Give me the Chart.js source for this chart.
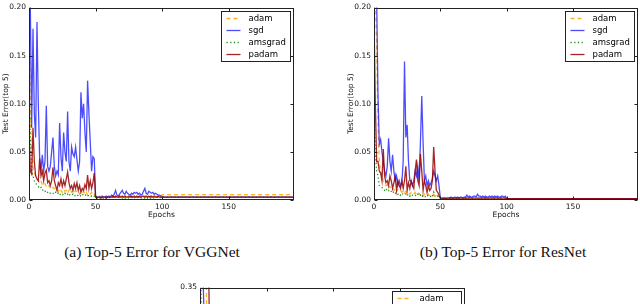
<!DOCTYPE html>
<html>
<head>
<meta charset="utf-8">
<script src="https://cdn.jsdelivr.net/npm/chart.js@4/dist/chart.umd.min.js"></script>
<style>
  html, body { margin: 0; width: 640px; height: 304px; overflow: hidden; background: #fff; }
  body { position: relative; }
  .plot { position: absolute; overflow: hidden; }
  .cap { position: absolute; width: 220px; text-align: center; font-family: "Liberation Serif", serif; font-size: 15.5px; color: #111; white-space: nowrap; }
</style>
</head>
<body>
<div class="plot" style="left:0;top:0;width:300px;height:222px"><canvas id="vgg" width="300" height="222"></canvas></div>
<div class="plot" style="left:345px;top:0;width:295px;height:222px"><canvas id="resnet" width="295" height="222"></canvas></div>
<div class="plot" style="left:175px;top:280px;width:300px;height:24px"><canvas id="third" width="300" height="222"></canvas></div>
<div class="cap" style="left:42px;top:243px">(a) Top-5 Error for VGGNet</div>
<div class="cap" style="left:393px;top:243px">(b) Top-5 Error for ResNet</div>
<script>
var seriesNames = ["adam", "sgd", "amsgrad", "padam"];
var yTicksTop = [0, 0.05, 0.1, 0.15, 0.2];
var yTicksThird = [0, 0.05, 0.1, 0.15, 0.2, 0.25, 0.3, 0.35];
var xTicks = [0, 50, 100, 150];

// epochs 0..199
var epochs = [];
for (var e = 0; e < 200; e++) epochs.push(e);

// (a) VGGNet
var vggAdam = [
  0.21, 0.09, 0.05, 0.035, 0.028, 0.025, 0.022, 0.02, 0.018, 0.02,
  0.016, 0.015, 0.017, 0.014, 0.013, 0.015, 0.012, 0.011, 0.013, 0.012,
  0.01, 0.011, 0.009, 0.012, 0.01, 0.008, 0.011, 0.009, 0.01, 0.007,
  0.01, 0.012, 0.008, 0.009, 0.007, 0.01, 0.008, 0.009, 0.006, 0.008,
  0.007, 0.009, 0.006, 0.008, 0.005, 0.007, 0.006, 0.008, 0.005, 0.006,
  0.003, 0.003, 0.003, 0.004, 0.003, 0.003, 0.003, 0.004, 0.003, 0.003,
  0.003, 0.004, 0.003, 0.003, 0.003, 0.004, 0.003, 0.003, 0.004, 0.003,
  0.003, 0.003, 0.004, 0.003, 0.003, 0.003, 0.004, 0.003, 0.003, 0.003,
  0.004, 0.003, 0.003, 0.003, 0.004, 0.003, 0.003, 0.004, 0.003, 0.003,
  0.003, 0.004, 0.003, 0.003, 0.003, 0.004, 0.003, 0.003, 0.003, 0.003,
  0.0055, 0.0055, 0.0055, 0.0055, 0.0055, 0.0055, 0.0055, 0.0055, 0.0055, 0.0055,
  0.0055, 0.0055, 0.0055, 0.0055, 0.0055, 0.0055, 0.0055, 0.0055, 0.0055, 0.0055,
  0.0055, 0.0055, 0.0055, 0.0055, 0.0055, 0.0055, 0.0055, 0.0055, 0.0055, 0.0055,
  0.0055, 0.0055, 0.0055, 0.0055, 0.0055, 0.0055, 0.0055, 0.0055, 0.0055, 0.0055,
  0.0055, 0.0055, 0.0055, 0.0055, 0.0055, 0.0055, 0.0055, 0.0055, 0.0055, 0.0055,
  0.0055, 0.0055, 0.0055, 0.0055, 0.0055, 0.0055, 0.0055, 0.0055, 0.0055, 0.0055,
  0.0055, 0.0055, 0.0055, 0.0055, 0.0055, 0.0055, 0.0055, 0.0055, 0.0055, 0.0055,
  0.0055, 0.0055, 0.0055, 0.0055, 0.0055, 0.0055, 0.0055, 0.0055, 0.0055, 0.0055,
  0.0055, 0.0055, 0.0055, 0.0055, 0.0055, 0.0055, 0.0055, 0.0055, 0.0055, 0.0055,
  0.0055, 0.0055, 0.0055, 0.0055, 0.0055, 0.0055, 0.0055, 0.0055, 0.0055, 0.0055
];
var vggSgd = [
  0.25, 0.2, 0.075, 0.178, 0.09, 0.065, 0.185, 0.1, 0.044, 0.03,
  0.047, 0.03, 0.04, 0.098, 0.035, 0.03, 0.035, 0.05, 0.065, 0.035,
  0.025, 0.03, 0.026, 0.08, 0.045, 0.03, 0.07, 0.05, 0.04, 0.092,
  0.04, 0.03, 0.055, 0.048, 0.045, 0.055, 0.042, 0.03, 0.04, 0.112,
  0.085, 0.1, 0.07, 0.05, 0.124, 0.09, 0.06, 0.03, 0.045, 0.043,
  0.004, 0.003, 0.003, 0.003, 0.003, 0.004, 0.003, 0.003, 0.004, 0.003,
  0.004, 0.003, 0.005, 0.004, 0.006, 0.01, 0.005, 0.004, 0.006, 0.008,
  0.01, 0.007, 0.006, 0.009, 0.007, 0.006, 0.005, 0.007, 0.006, 0.008,
  0.007, 0.008, 0.006, 0.007, 0.005, 0.006, 0.009, 0.012, 0.007, 0.006,
  0.009, 0.008, 0.007, 0.008, 0.006, 0.007, 0.006, 0.005, 0.005, 0.004,
  0.003, 0.003, 0.003, 0.003, 0.003, 0.003, 0.003, 0.003, 0.003, 0.003,
  0.003, 0.003, 0.003, 0.003, 0.003, 0.003, 0.003, 0.003, 0.003, 0.003,
  0.003, 0.003, 0.003, 0.003, 0.003, 0.003, 0.003, 0.003, 0.003, 0.003,
  0.003, 0.003, 0.003, 0.003, 0.003, 0.003, 0.003, 0.003, 0.003, 0.003,
  0.003, 0.003, 0.003, 0.003, 0.003, 0.003, 0.003, 0.003, 0.003, 0.003,
  0.003, 0.003, 0.003, 0.003, 0.003, 0.003, 0.003, 0.003, 0.003, 0.003,
  0.003, 0.003, 0.003, 0.003, 0.003, 0.003, 0.003, 0.003, 0.003, 0.003,
  0.003, 0.003, 0.003, 0.003, 0.003, 0.003, 0.003, 0.003, 0.003, 0.003,
  0.003, 0.003, 0.003, 0.003, 0.003, 0.003, 0.003, 0.003, 0.003, 0.003,
  0.003, 0.003, 0.003, 0.003, 0.003, 0.003, 0.003, 0.003, 0.003, 0.003
];
var vggAmsgrad = [
  0.12, 0.065, 0.03, 0.025, 0.02, 0.018, 0.015, 0.014, 0.012, 0.013,
  0.01, 0.011, 0.009, 0.01, 0.008, 0.009, 0.007, 0.008, 0.007, 0.006,
  0.008, 0.006, 0.007, 0.005, 0.007, 0.006, 0.005, 0.007, 0.005, 0.006,
  0.004, 0.006, 0.005, 0.006, 0.004, 0.005, 0.006, 0.004, 0.005, 0.004,
  0.006, 0.005, 0.004, 0.006, 0.005, 0.004, 0.005, 0.004, 0.005, 0.004,
  0.002, 0.003, 0.002, 0.002, 0.003, 0.002, 0.002, 0.003, 0.002, 0.002,
  0.003, 0.002, 0.002, 0.003, 0.002, 0.003, 0.002, 0.002, 0.003, 0.002,
  0.002, 0.003, 0.002, 0.002, 0.003, 0.002, 0.002, 0.003, 0.002, 0.003,
  0.002, 0.002, 0.003, 0.002, 0.002, 0.003, 0.002, 0.002, 0.003, 0.002,
  0.003, 0.002, 0.002, 0.003, 0.002, 0.002, 0.003, 0.002, 0.002, 0.003,
  0.003, 0.003, 0.003, 0.003, 0.003, 0.003, 0.003, 0.003, 0.003, 0.003,
  0.003, 0.003, 0.003, 0.003, 0.003, 0.003, 0.003, 0.003, 0.003, 0.003,
  0.003, 0.003, 0.003, 0.003, 0.003, 0.003, 0.003, 0.003, 0.003, 0.003,
  0.003, 0.003, 0.003, 0.003, 0.003, 0.003, 0.003, 0.003, 0.003, 0.003,
  0.003, 0.003, 0.003, 0.003, 0.003, 0.003, 0.003, 0.003, 0.003, 0.003,
  0.003, 0.003, 0.003, 0.003, 0.003, 0.003, 0.003, 0.003, 0.003, 0.003,
  0.003, 0.003, 0.003, 0.003, 0.003, 0.003, 0.003, 0.003, 0.003, 0.003,
  0.003, 0.003, 0.003, 0.003, 0.003, 0.003, 0.003, 0.003, 0.003, 0.003,
  0.003, 0.003, 0.003, 0.003, 0.003, 0.003, 0.003, 0.003, 0.003, 0.003,
  0.003, 0.003, 0.003, 0.003, 0.003, 0.003, 0.003, 0.003, 0.003, 0.003
];
var vggPadam = [
  0.072, 0.03, 0.027, 0.075, 0.04, 0.025, 0.022, 0.02, 0.043, 0.025,
  0.03, 0.02, 0.028, 0.031, 0.018, 0.02, 0.015, 0.02, 0.034, 0.02,
  0.015, 0.01, 0.018, 0.015, 0.022, 0.014, 0.02, 0.015, 0.022, 0.029,
  0.018, 0.012, 0.015, 0.01, 0.017, 0.012, 0.018, 0.01, 0.015, 0.008,
  0.012, 0.01, 0.016, 0.012, 0.026, 0.012, 0.02, 0.012, 0.018, 0.028,
  0.003, 0.002, 0.003, 0.003, 0.002, 0.003, 0.003, 0.003, 0.002, 0.003,
  0.003, 0.003, 0.003, 0.004, 0.003, 0.004, 0.003, 0.003, 0.004, 0.003,
  0.004, 0.003, 0.004, 0.003, 0.003, 0.004, 0.003, 0.004, 0.003, 0.004,
  0.003, 0.004, 0.003, 0.004, 0.003, 0.004, 0.004, 0.003, 0.004, 0.003,
  0.004, 0.003, 0.004, 0.003, 0.004, 0.003, 0.003, 0.004, 0.003, 0.003,
  0.003, 0.003, 0.003, 0.003, 0.003, 0.003, 0.003, 0.003, 0.003, 0.003,
  0.003, 0.003, 0.003, 0.003, 0.003, 0.003, 0.003, 0.003, 0.003, 0.003,
  0.003, 0.003, 0.003, 0.003, 0.003, 0.003, 0.003, 0.003, 0.003, 0.003,
  0.003, 0.003, 0.003, 0.003, 0.003, 0.003, 0.003, 0.003, 0.003, 0.003,
  0.003, 0.003, 0.003, 0.003, 0.003, 0.003, 0.003, 0.003, 0.003, 0.003,
  0.003, 0.003, 0.003, 0.003, 0.003, 0.003, 0.003, 0.003, 0.003, 0.003,
  0.003, 0.003, 0.003, 0.003, 0.003, 0.003, 0.003, 0.003, 0.003, 0.003,
  0.003, 0.003, 0.003, 0.003, 0.003, 0.003, 0.003, 0.003, 0.003, 0.003,
  0.003, 0.003, 0.003, 0.003, 0.003, 0.003, 0.003, 0.003, 0.003, 0.003,
  0.003, 0.003, 0.003, 0.003, 0.003, 0.003, 0.003, 0.003, 0.003, 0.003
];

// (b) ResNet
var resAdam = [
  0.21, 0.21, 0.16, 0.08, 0.04, 0.03, 0.025, 0.02, 0.018, 0.015,
  0.016, 0.012, 0.014, 0.011, 0.012, 0.01, 0.012, 0.009, 0.011, 0.009,
  0.01, 0.008, 0.01, 0.008, 0.009, 0.007, 0.008, 0.006, 0.008, 0.007,
  0.006, 0.008, 0.006, 0.005, 0.007, 0.005, 0.006, 0.004, 0.006, 0.005,
  0.004, 0.006, 0.004, 0.005, 0.004, 0.006, 0.004, 0.005, 0.004, 0.004,
  0.002, 0.002, 0.002, 0.002, 0.002, 0.002, 0.002, 0.002, 0.002, 0.002,
  0.002, 0.002, 0.002, 0.002, 0.002, 0.002, 0.002, 0.002, 0.002, 0.002,
  0.002, 0.002, 0.002, 0.002, 0.002, 0.002, 0.002, 0.002, 0.002, 0.002,
  0.002, 0.002, 0.002, 0.002, 0.002, 0.002, 0.002, 0.002, 0.002, 0.002,
  0.002, 0.002, 0.002, 0.002, 0.002, 0.002, 0.002, 0.002, 0.002, 0.002,
  0.0015, 0.0015, 0.0015, 0.0015, 0.0015, 0.0015, 0.0015, 0.0015, 0.0015, 0.0015,
  0.0015, 0.0015, 0.0015, 0.0015, 0.0015, 0.0015, 0.0015, 0.0015, 0.0015, 0.0015,
  0.0015, 0.0015, 0.0015, 0.0015, 0.0015, 0.0015, 0.0015, 0.0015, 0.0015, 0.0015,
  0.0015, 0.0015, 0.0015, 0.0015, 0.0015, 0.0015, 0.0015, 0.0015, 0.0015, 0.0015,
  0.0015, 0.0015, 0.0015, 0.0015, 0.0015, 0.0015, 0.0015, 0.0015, 0.0015, 0.0015,
  0.0015, 0.0015, 0.0015, 0.0015, 0.0015, 0.0015, 0.0015, 0.0015, 0.0015, 0.0015,
  0.0015, 0.0015, 0.0015, 0.0015, 0.0015, 0.0015, 0.0015, 0.0015, 0.0015, 0.0015,
  0.0015, 0.0015, 0.0015, 0.0015, 0.0015, 0.0015, 0.0015, 0.0015, 0.0015, 0.0015,
  0.0015, 0.0015, 0.0015, 0.0015, 0.0015, 0.0015, 0.0015, 0.0015, 0.0015, 0.0015,
  0.0015, 0.0015, 0.0015, 0.0015, 0.0015, 0.0015, 0.0015, 0.0015, 0.0015, 0.0015
];
var resSgd = [
  0.19, 0.25, 0.21, 0.11, 0.058, 0.063, 0.05, 0.04, 0.03, 0.025,
  0.035, 0.064, 0.04, 0.03, 0.047, 0.03, 0.02, 0.025, 0.015, 0.02,
  0.015, 0.018, 0.04, 0.144, 0.065, 0.078, 0.04, 0.02, 0.02, 0.015,
  0.02, 0.03, 0.025, 0.035, 0.02, 0.06, 0.108, 0.06, 0.02, 0.025,
  0.015, 0.02, 0.015, 0.018, 0.022, 0.03, 0.025, 0.02, 0.025, 0.015,
  0.002, 0.001, 0.002, 0.002, 0.001, 0.002, 0.002, 0.002, 0.003, 0.002,
  0.002, 0.003, 0.002, 0.003, 0.002, 0.003, 0.003, 0.002, 0.003, 0.003,
  0.005, 0.003, 0.004, 0.003, 0.003, 0.004, 0.004, 0.003, 0.006, 0.004,
  0.004, 0.003, 0.004, 0.003, 0.004, 0.003, 0.003, 0.004, 0.003, 0.004,
  0.003, 0.004, 0.003, 0.004, 0.003, 0.003, 0.004, 0.004, 0.003, 0.004,
  0.0015, 0.0015, 0.0015, 0.0015, 0.0015, 0.0015, 0.0015, 0.0015, 0.0015, 0.0015,
  0.0015, 0.0015, 0.0015, 0.0015, 0.0015, 0.0015, 0.0015, 0.0015, 0.0015, 0.0015,
  0.0015, 0.0015, 0.0015, 0.0015, 0.0015, 0.0015, 0.0015, 0.0015, 0.0015, 0.0015,
  0.0015, 0.0015, 0.0015, 0.0015, 0.0015, 0.0015, 0.0015, 0.0015, 0.0015, 0.0015,
  0.0015, 0.0015, 0.0015, 0.0015, 0.0015, 0.0015, 0.0015, 0.0015, 0.0015, 0.0015,
  0.0015, 0.0015, 0.0015, 0.0015, 0.0015, 0.0015, 0.0015, 0.0015, 0.0015, 0.0015,
  0.0015, 0.0015, 0.0015, 0.0015, 0.0015, 0.0015, 0.0015, 0.0015, 0.0015, 0.0015,
  0.0015, 0.0015, 0.0015, 0.0015, 0.0015, 0.0015, 0.0015, 0.0015, 0.0015, 0.0015,
  0.0015, 0.0015, 0.0015, 0.0015, 0.0015, 0.0015, 0.0015, 0.0015, 0.0015, 0.0015,
  0.0015, 0.0015, 0.0015, 0.0015, 0.0015, 0.0015, 0.0015, 0.0015, 0.0015, 0.0015
];
var resAmsgrad = [
  0.1, 0.05, 0.03, 0.025, 0.015, 0.014, 0.013, 0.012, 0.01, 0.012,
  0.009, 0.01, 0.008, 0.009, 0.007, 0.009, 0.007, 0.008, 0.006, 0.007,
  0.005, 0.007, 0.006, 0.005, 0.007, 0.005, 0.006, 0.004, 0.006, 0.005,
  0.004, 0.005, 0.004, 0.006, 0.004, 0.005, 0.003, 0.005, 0.004, 0.003,
  0.005, 0.004, 0.003, 0.004, 0.003, 0.008, 0.004, 0.003, 0.004, 0.003,
  0.001, 0.002, 0.001, 0.001, 0.002, 0.001, 0.001, 0.002, 0.001, 0.001,
  0.002, 0.001, 0.001, 0.002, 0.001, 0.001, 0.002, 0.001, 0.001, 0.002,
  0.001, 0.001, 0.002, 0.001, 0.001, 0.002, 0.001, 0.001, 0.002, 0.001,
  0.001, 0.002, 0.001, 0.001, 0.002, 0.001, 0.001, 0.002, 0.001, 0.001,
  0.002, 0.001, 0.001, 0.002, 0.001, 0.001, 0.002, 0.001, 0.001, 0.001,
  0.001, 0.001, 0.001, 0.001, 0.001, 0.001, 0.001, 0.001, 0.001, 0.001,
  0.001, 0.001, 0.001, 0.001, 0.001, 0.001, 0.001, 0.001, 0.001, 0.001,
  0.001, 0.001, 0.001, 0.001, 0.001, 0.001, 0.001, 0.001, 0.001, 0.001,
  0.001, 0.001, 0.001, 0.001, 0.001, 0.001, 0.001, 0.001, 0.001, 0.001,
  0.001, 0.001, 0.001, 0.001, 0.001, 0.001, 0.001, 0.001, 0.001, 0.001,
  0.001, 0.001, 0.001, 0.001, 0.001, 0.001, 0.001, 0.001, 0.001, 0.001,
  0.001, 0.001, 0.001, 0.001, 0.001, 0.001, 0.001, 0.001, 0.001, 0.001,
  0.001, 0.001, 0.001, 0.001, 0.001, 0.001, 0.001, 0.001, 0.001, 0.001,
  0.001, 0.001, 0.001, 0.001, 0.001, 0.001, 0.001, 0.001, 0.001, 0.001,
  0.001, 0.001, 0.001, 0.001, 0.001, 0.001, 0.001, 0.001, 0.001, 0.001
];
var resPadam = [
  0.19, 0.1, 0.04, 0.04, 0.03, 0.028, 0.02, 0.053, 0.025, 0.018,
  0.02, 0.015, 0.025, 0.02, 0.012, 0.018, 0.025, 0.01, 0.02, 0.015,
  0.012, 0.02, 0.012, 0.02, 0.035, 0.01, 0.018, 0.012, 0.02, 0.015,
  0.012, 0.03, 0.042, 0.02, 0.015, 0.048, 0.03, 0.01, 0.02, 0.015,
  0.008, 0.015, 0.01, 0.012, 0.02, 0.055, 0.03, 0.01, 0.008, 0.005,
  0.002, 0.002, 0.002, 0.002, 0.002, 0.002, 0.002, 0.002, 0.002, 0.002,
  0.002, 0.002, 0.002, 0.002, 0.002, 0.002, 0.002, 0.002, 0.002, 0.002,
  0.002, 0.002, 0.002, 0.002, 0.002, 0.002, 0.002, 0.002, 0.002, 0.002,
  0.002, 0.002, 0.002, 0.002, 0.002, 0.002, 0.002, 0.002, 0.002, 0.002,
  0.002, 0.002, 0.002, 0.002, 0.002, 0.002, 0.002, 0.002, 0.002, 0.002,
  0.0015, 0.0015, 0.0015, 0.0015, 0.0015, 0.0015, 0.0015, 0.0015, 0.0015, 0.0015,
  0.0015, 0.0015, 0.0015, 0.0015, 0.0015, 0.0015, 0.0015, 0.0015, 0.0015, 0.0015,
  0.0015, 0.0015, 0.0015, 0.0015, 0.0015, 0.0015, 0.0015, 0.0015, 0.0015, 0.0015,
  0.0015, 0.0015, 0.0015, 0.0015, 0.0015, 0.0015, 0.0015, 0.0015, 0.0015, 0.0015,
  0.0015, 0.0015, 0.0015, 0.0015, 0.0015, 0.0015, 0.0015, 0.0015, 0.0015, 0.0015,
  0.0015, 0.0015, 0.0015, 0.0015, 0.0015, 0.0015, 0.0015, 0.0015, 0.0015, 0.0015,
  0.0015, 0.0015, 0.0015, 0.0015, 0.0015, 0.0015, 0.0015, 0.0015, 0.0015, 0.0015,
  0.0015, 0.0015, 0.0015, 0.0015, 0.0015, 0.0015, 0.0015, 0.0015, 0.0015, 0.0015,
  0.0015, 0.0015, 0.0015, 0.0015, 0.0015, 0.0015, 0.0015, 0.0015, 0.0015, 0.0015,
  0.0015, 0.0015, 0.0015, 0.0015, 0.0015, 0.0015, 0.0015, 0.0015, 0.0015, 0.0015
];

// (c) only the top edge is visible in the picture
var thirdAdam = [0.6, 0.6, 0.6, 0.6, 0.5, 0.3];
var thirdSgd = [0.6, 0.5, 0.4, 0.3];
var thirdAmsgrad = [0.5, 0.3];
var thirdPadam = [0.6, 0.6, 0.6, 0.6, 0.6, 0.6, 0.45, 0.3];

// Line styles, in legend order
var styles = [
  { borderColor: "rgba(255, 165, 0, 0.85)", borderDash: [4, 3], order: 4 },
  { borderColor: "rgba(0, 0, 255, 0.7)", borderDash: [], order: 3 },
  { borderColor: "rgba(0, 128, 0, 0.9)", borderDash: [1.2, 2.5], order: 2 },
  { borderColor: "rgba(150, 0, 0, 0.85)", borderDash: [], order: 1 },
];

var font = { family: "'DejaVu Sans'", size: 7.5 };

// Frame, inward ticks on all four sides, and the boxed legend
var framePlugin = {
  id: "frameLegend",
  afterDatasetsDraw: function (chart) {
    var ctx = chart.ctx;
    var a = chart.chartArea;
    var l = Math.round(a.left) + 0.5, r = Math.round(a.right) - 0.5;
    var t = Math.round(a.top) + 0.5, b = Math.round(a.bottom) - 0.5;
    ctx.save();
    ctx.strokeStyle = "#222";
    ctx.lineWidth = 1;
    ctx.setLineDash([]);
    ctx.strokeRect(l, t, r - l, b - t);

    ctx.beginPath();
    chart.scales.x.ticks.forEach(function (tk) {
      var px = Math.round(chart.scales.x.getPixelForValue(tk.value)) + 0.5;
      ctx.moveTo(px, b); ctx.lineTo(px, b - 3);
      ctx.moveTo(px, t); ctx.lineTo(px, t + 3);
    });
    chart.scales.y.ticks.forEach(function (tk) {
      var py = Math.round(chart.scales.y.getPixelForValue(tk.value)) + 0.5;
      ctx.moveTo(l, py); ctx.lineTo(l + 3, py);
      ctx.moveTo(r, py); ctx.lineTo(r - 3, py);
    });
    ctx.stroke();

    // legend box
    var bw = 69, bh = 50;
    var bx = Math.round(a.right) - 4 - bw + 0.5;
    var by = Math.round(a.top) + 3 + 0.5;
    ctx.fillStyle = "#fff";
    ctx.fillRect(bx, by, bw, bh);
    ctx.strokeStyle = "#222";
    ctx.strokeRect(bx, by, bw, bh);
    ctx.font = "8.5px 'DejaVu Sans'";
    ctx.textBaseline = "middle";
    chart.data.datasets.forEach(function (ds, i) {
      var y = by + 7 + i * 12;
      ctx.beginPath();
      ctx.strokeStyle = ds.borderColor;
      ctx.lineWidth = 1.3;
      ctx.setLineDash(ds.borderDash);
      ctx.moveTo(bx + 5, y);
      ctx.lineTo(bx + 19, y);
      ctx.stroke();
      ctx.fillStyle = "#000";
      ctx.fillText(ds.label, bx + 27, y);
    });
    ctx.restore();
  },
};

function makeChart(id, series, yMax, yTicks, rightPad, yWidth, yTitle) {
  var datasets = series.map(function (vals, i) {
    return {
      label: seriesNames[i],
      data: vals.map(function (v, k) { return { x: epochs[k], y: v }; }),
      borderColor: styles[i].borderColor,
      borderDash: styles[i].borderDash,
      order: styles[i].order,
      borderWidth: 1.3,
      pointRadius: 0,
      tension: 0,
      fill: false,
      clip: 0,
    };
  });

  return new Chart(document.getElementById(id).getContext("2d"), {
    type: "line",
    data: { datasets: datasets },
    options: {
      responsive: false,
      animation: false,
      events: [],
      layout: { padding: { top: 5, right: rightPad, bottom: 0, left: 0 } },
      plugins: { legend: { display: false }, tooltip: { enabled: false } },
      scales: {
        x: {
          type: "linear",
          min: 0,
          max: 199,
          grid: { display: false, drawTicks: false },
          border: { display: false },
          ticks: { maxRotation: 0, padding: 3, color: "#111", font: font },
          afterBuildTicks: function (s) {
            s.ticks = xTicks.map(function (v) { return { value: v }; });
          },
          title: {
            display: true,
            text: "Epochs",
            color: "#111",
            font: font,
            padding: { top: 2, bottom: 2 },
          },
          afterFit: function (s) { s.height = 22; },
        },
        y: {
          min: 0,
          max: yMax,
          grid: { display: false, drawTicks: false },
          border: { display: false },
          ticks: {
            padding: 3,
            color: "#111",
            font: font,
            callback: function (value) { return value.toFixed(2); },
          },
          afterBuildTicks: function (s) {
            s.ticks = yTicks.map(function (v) { return { value: v }; });
          },
          title: {
            display: !!yTitle,
            text: yTitle || "",
            color: "#111",
            font: font,
            padding: { top: 2, bottom: 2 },
          },
          afterFit: function (s) { s.width = yWidth; },
        },
      },
    },
    plugins: [framePlugin],
  });
}

makeChart("vgg", [vggAdam, vggSgd, vggAmsgrad, vggPadam], 0.2, yTicksTop, 6, 29, "Test Error(top 5)");
makeChart("resnet", [resAdam, resSgd, resAmsgrad, resPadam], 0.2, yTicksTop, 2, 29, "Test Error(top 5)");
makeChart("third", [thirdAdam, thirdSgd, thirdAmsgrad, thirdPadam], 0.35, yTicksThird, 10, 25, null);
</script>
</body>
</html>
